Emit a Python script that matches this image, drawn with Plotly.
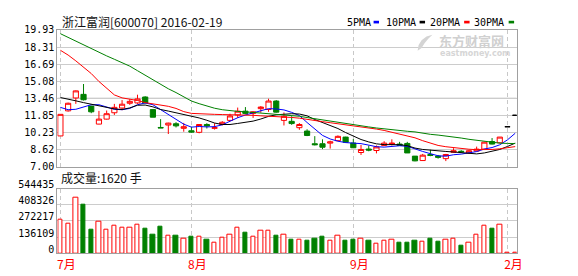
import plotly.graph_objects as go

# ---------------- data ----------------
stock_name = "浙江富润"
stock_code = "600070"
chart_date = "2016-02-19"
volume_title = "成交量:1620 手"

month_ticks = [0, 17, 38, 58]
month_labels = ["7月", "8月", "9月", "2月"]
price_ticks = [7.00, 8.62, 10.23, 11.85, 13.46, 15.08, 16.69, 18.31, 19.93]
volume_ticks = [0, 136109, 272217, 408326, 544435]
ma_names = ["5PMA", "10PMA", "20PMA", "30PMA"]

opens = [9.90, 12.27, 13.49, 13.83, 12.72, 11.02, 11.49, 12.09, 12.54, 12.99,
         13.02, 13.58, 12.39, 10.70, 10.93, 11.05, 10.62, 10.39, 10.24, 10.98,
         10.62, 10.98, 11.37, 11.88, 12.24, 12.03, 12.48, 12.40, 13.20, 11.37,
         11.28, 10.68, 10.36, 9.16, 9.16, 9.22, 9.45, 9.79, 9.23, 8.33,
         8.66, 8.52, 9.00, 9.10, 9.13, 9.19, 7.99, 7.57, 8.14, 7.99,
         7.75, 8.35, 8.45, 8.29, 8.47, 8.65, 9.37, 9.25, 10.77, 11.85]
highs = [11.94, 13.05, 14.20, 14.81, 12.75, 12.27, 12.30, 12.93, 13.29, 13.38,
         13.80, 13.65, 12.45, 11.49, 11.15, 11.20, 11.13, 10.77, 11.00, 11.10,
         11.10, 11.30, 12.00, 12.58, 12.63, 12.25, 12.72, 13.42, 13.29, 12.12,
         11.76, 11.11, 10.53, 9.88, 9.58, 9.45, 9.95, 9.82, 9.61, 9.04,
         9.00, 9.00, 9.40, 9.58, 9.34, 9.34, 8.00, 8.20, 8.59, 8.10,
         8.20, 8.74, 8.55, 8.55, 8.89, 9.34, 9.70, 9.80, 10.77, 11.85]
lows = [9.90, 12.20, 12.93, 13.25, 12.05, 11.00, 11.45, 11.88, 12.33, 12.84,
        12.93, 12.98, 11.67, 10.66, 10.08, 10.70, 10.30, 10.20, 10.15, 10.60,
        10.50, 10.90, 11.30, 11.60, 11.95, 11.60, 12.10, 12.18, 12.10, 10.89,
        10.95, 10.48, 9.88, 9.00, 8.65, 8.70, 9.43, 9.25, 8.75, 8.10,
        8.45, 8.25, 8.95, 9.00, 8.95, 8.29, 7.50, 7.55, 7.98, 7.75,
        7.52, 8.29, 8.35, 8.25, 8.45, 8.60, 9.10, 9.20, 10.77, 11.85]
closes = [11.94, 12.99, 14.16, 13.32, 12.18, 11.49, 12.00, 12.60, 12.90, 13.17,
          13.40, 13.02, 11.67, 10.66, 11.11, 10.85, 10.77, 10.26, 10.98, 10.84,
          10.68, 11.19, 11.79, 12.24, 12.03, 12.18, 12.63, 13.20, 12.15, 11.76,
          11.07, 10.98, 9.94, 9.07, 8.83, 9.34, 9.86, 9.30, 8.78, 8.62,
          8.56, 8.86, 9.22, 9.22, 9.00, 8.29, 7.54, 8.08, 8.05, 7.88,
          8.14, 8.50, 8.40, 8.50, 8.65, 9.31, 9.13, 9.79, 10.77, 11.85]
volumes = [280000, 248000, 472000, 411000, 195000, 267000, 200000, 232000, 216000, 216000,
           240000, 203000, 155000, 227000, 152000, 147000, 122000, 139000, 136000, 115000,
           88000, 131000, 160000, 216000, 171000, 139000, 187000, 187000, 147000, 160000,
           117000, 117000, 109000, 125000, 141000, 109000, 147000, 109000, 117000, 122000,
           106000, 82000, 106000, 115000, 90000, 90000, 106000, 98000, 125000, 98000,
           115000, 122000, 66000, 90000, 155000, 232000, 203000, 243000, 1900, 1620]
ma5 = [12.60, 12.38, 12.42, 12.62, 12.85, 12.85, 12.63, 12.42, 12.38, 12.50,
       12.85, 13.02, 12.85, 12.40, 11.97, 11.46, 11.01, 10.73, 10.79, 10.75,
       10.78, 10.95, 11.30, 11.62, 11.88, 12.08, 12.28, 12.48, 12.45, 12.36,
       12.13, 11.83, 11.17, 10.53, 9.95, 9.61, 9.40, 9.27, 9.21, 9.17,
       9.03, 8.88, 8.84, 8.90, 8.97, 8.92, 8.65, 8.43, 8.22, 8.02,
       7.98, 8.12, 8.18, 8.27, 8.42, 8.66, 8.80, 9.06, 9.53, 10.15]
ma10 = [13.53, 13.40, 13.22, 13.05, 12.90, 12.72, 12.58, 12.45, 12.40, 12.55,
        12.80, 12.82, 12.65, 12.40, 12.25, 12.10, 11.95, 11.80, 11.60, 11.38,
        11.12, 10.98, 10.98, 11.08, 11.18, 11.30, 11.50, 11.75, 11.90, 11.97,
        12.00, 11.97, 11.80, 11.45, 11.15, 10.87, 10.60, 10.22, 9.87, 9.56,
        9.33, 9.15, 9.08, 9.07, 9.07, 8.98, 8.75, 8.62, 8.54, 8.47,
        8.43, 8.38, 8.31, 8.24, 8.20, 8.29, 8.45, 8.62, 8.90, 9.22]
ma20 = [18.00, 17.55, 17.00, 16.40, 15.80, 15.05, 14.40, 13.78, 13.50, 13.40,
        13.25, 13.05, 12.93, 12.85, 12.70, 12.50, 12.20, 12.03, 11.98, 11.96,
        11.94, 11.92, 11.92, 11.92, 11.90, 11.85, 11.80, 11.77, 11.75, 11.72,
        11.65, 11.58, 11.45, 11.33, 11.25, 11.15, 11.05, 10.97, 10.88, 10.80,
        10.70, 10.55, 10.42, 10.25, 10.05, 9.88, 9.72, 9.45, 9.25, 9.00,
        8.88, 8.78, 8.70, 8.64, 8.60, 8.60, 8.62, 8.68, 8.80, 8.89]
ma30 = [19.57, 19.21, 18.86, 18.50, 18.15, 17.80, 17.47, 17.15, 16.83, 16.50,
        16.07, 15.64, 15.20, 14.77, 14.36, 14.00, 13.58, 13.20, 12.95, 12.72,
        12.52, 12.38, 12.28, 12.22, 12.18, 12.12, 12.07, 12.02, 11.98, 11.93,
        11.86, 11.76, 11.64, 11.52, 11.40, 11.28, 11.17, 11.06, 10.95, 10.85,
        10.75, 10.65, 10.56, 10.48, 10.40, 10.34, 10.28, 10.15, 10.05, 9.98,
        9.90, 9.82, 9.70, 9.58, 9.48, 9.38, 9.30, 9.22, 9.19, 9.18]

# ---------------- styling / layout ----------------
W, H = 578, 276
RED, GREEN, BLUE, BLACK = "#ff0000", "#008000", "#0000ff", "#000000"
ma_colors = [BLUE, BLACK, RED, GREEN]
GRID = "#cccccc"
FRAME = "#a0a0a0"
MONO = "DejaVu Sans Mono"
CJK = "Noto Sans CJK SC"

def px(x):
    return x / W

def py(y):
    return 1 - y / H

idx = list(range(len(closes)))
normal = [i for i in idx if highs[i] != lows[i]]
flat = [i for i in idx if highs[i] == lows[i]]

fig = go.Figure()

fig.add_trace(go.Candlestick(
    x=normal,
    open=[opens[i] for i in normal], high=[highs[i] for i in normal],
    low=[lows[i] for i in normal], close=[closes[i] for i in normal],
    increasing=dict(line=dict(color=RED, width=1), fillcolor="#ffffff"),
    decreasing=dict(line=dict(color=GREEN, width=1), fillcolor=GREEN),
    whiskerwidth=0, xaxis="x", yaxis="y", hoverinfo="skip", showlegend=False))

fig.add_trace(go.Candlestick(
    x=flat,
    open=[opens[i] for i in flat], high=[highs[i] for i in flat],
    low=[lows[i] for i in flat], close=[closes[i] for i in flat],
    increasing=dict(line=dict(color=BLACK, width=1), fillcolor=BLACK),
    decreasing=dict(line=dict(color=BLACK, width=1), fillcolor=BLACK),
    whiskerwidth=0, xaxis="x", yaxis="y", hoverinfo="skip", showlegend=False))

for name, vals, col in zip(ma_names, [ma5, ma10, ma20, ma30], ma_colors):
    fig.add_trace(go.Scatter(x=idx, y=vals, mode="lines", name=name,
                             line=dict(color=col, width=1), xaxis="x", yaxis="y",
                             hoverinfo="skip", showlegend=False))

up = [closes[i] >= opens[i] for i in idx]
fig.add_trace(go.Bar(
    x=idx, y=volumes, width=0.56,
    marker=dict(color=["#ffffff" if u else GREEN for u in up],
                line=dict(color=[RED if u else GREEN for u in up], width=1)),
    xaxis="x2", yaxis="y2", hoverinfo="skip", showlegend=False))

xr = [-0.39, 59.18]
x_dom = [px(58), px(522)]
common_x = dict(range=xr, domain=x_dom, tickvals=month_ticks, showgrid=True,
                gridcolor="#c8c8c8", griddash="4px,3px", zeroline=False,
                showline=True, mirror=True, linecolor=FRAME, linewidth=1,
                ticks="", fixedrange=True)

fig.update_layout(
    width=W, height=H, margin=dict(l=0, r=0, t=0, b=0),
    paper_bgcolor="#ffffff", plot_bgcolor="#ffffff",
    showlegend=False, boxgap=0.18, boxgroupgap=0.18, bargap=0,
    xaxis=dict(**common_x, anchor="y", showticklabels=False,
               rangeslider=dict(visible=False)),
    yaxis=dict(domain=[py(166), py(22)], range=[price_ticks[0], price_ticks[-1]],
               tickvals=price_ticks, tickformat=".2f", showgrid=True,
               gridcolor=GRID, zeroline=False, showline=True, mirror=True,
               linecolor=FRAME, ticks="", anchor="x",
               tickfont=dict(family=MONO, size=10, color="#000000")),
    xaxis2=dict(**common_x, anchor="y2", matches="x", ticktext=month_labels,
                showticklabels=True, ticklabelshift=6,
                tickfont=dict(family=CJK, size=12, color=RED)),
    yaxis2=dict(domain=[py(257.3), py(189.3)], range=[volume_ticks[0], volume_ticks[-1]],
                tickvals=volume_ticks, tickformat="d", showgrid=True,
                gridcolor=GRID, zeroline=False, showline=True, mirror=True,
                linecolor=FRAME, ticks="", anchor="x2", ticklabelshift=-4,
                tickfont=dict(family=MONO, size=10, color="#000000")),
)

shapes = []
# darker middle price grid line
shapes.append(dict(type="line", xref="x domain", yref="y", x0=0, x1=1,
                   y0=price_ticks[4], y1=price_ticks[4],
                   line=dict(color="#a8a8a8", width=1), layer="below"))

annotations = []
annotations.append(dict(text=f"{stock_name}[{stock_code}] {chart_date}",
                        x=px(61), y=py(13), xref="paper", yref="paper",
                        xanchor="left", yanchor="middle", showarrow=False,
                        font=dict(family=CJK, size=12, color="#111111")))
annotations.append(dict(text=volume_title, x=px(59.5), y=py(178), xref="paper", yref="paper",
                        xanchor="left", yanchor="middle", showarrow=False,
                        font=dict(family=CJK, size=12, color="#111111")))

# legend (text + colour swatch)
legend_text_right = [376.7, 422.7, 466.7, 511.7]
legend_swatch_left = [377.5, 424.0, 469.0, 514.0]
for name, col, tr, sl in zip(ma_names, ma_colors, legend_text_right, legend_swatch_left):
    annotations.append(dict(text=name, x=px(tr), y=py(14), xref="paper", yref="paper",
                            xanchor="right", yanchor="middle", showarrow=False,
                            font=dict(family=MONO, size=10, color="#000000")))
    shapes.append(dict(type="rect", xref="paper", yref="paper",
                       x0=px(sl), x1=px(sl + 5.5), y0=py(15.2), y1=py(12.4),
                       fillcolor=col, line=dict(width=0)))

# watermark
annotations.append(dict(text="<b>东方财富网</b>", x=px(443), y=py(33), xref="paper", yref="paper",
                        xanchor="left", yanchor="middle", showarrow=False, borderpad=0,
                        font=dict(family=CJK, size=13, color="#d0d0d0")))
annotations.append(dict(text="<b>eastmoney.com</b>", x=px(444), y=py(46.5), xref="paper", yref="paper",
                        xanchor="left", yanchor="middle", showarrow=False, borderpad=0,
                        font=dict(family="DejaVu Sans", size=8, color="#d6d6d6")))
logo_pts = [(437, 27), (431, 29), (426, 33), (423, 38), (422, 44), (426, 41), (429, 36), (433, 31)]
path = "M " + " L ".join(f"{px(a):.5f},{py(b):.5f}" for a, b in logo_pts) + " Z"
shapes.append(dict(type="path", xref="paper", yref="paper", path=path,
                   fillcolor="#d4d4d4", line=dict(width=0)))

fig.update_layout(shapes=shapes, annotations=annotations)
fig.write_html("out.html")
